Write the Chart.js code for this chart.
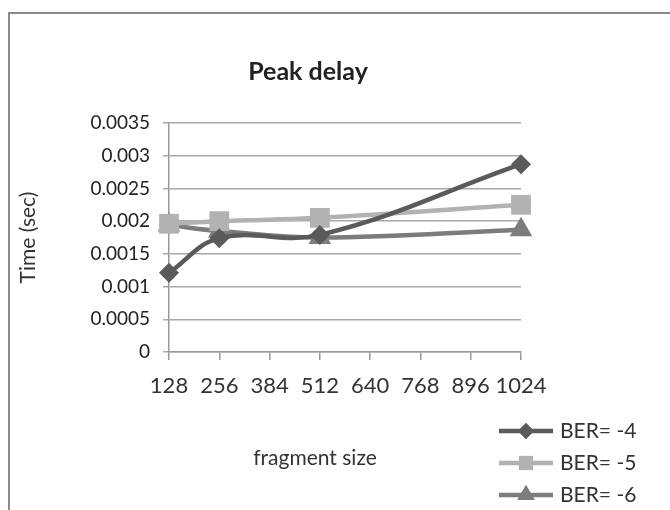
<!DOCTYPE html>
<html>
<head>
<meta charset="utf-8">
<script src="https://cdn.jsdelivr.net/npm/chart.js@4"></script>
<style>
  html, body { margin: 0; padding: 0; background: #fff; }
  #wrap { position: relative; width: 670px; height: 510px; overflow: hidden; }
  #frame { position: absolute; left: 8px; top: 12px; width: 700px; height: 600px; border: 2px solid #8a8a8a; box-sizing: border-box; }
  canvas { position: absolute; left: 0; top: 0; }
</style>
</head>
<body>
<div id="wrap">
  <div id="frame"></div>
  <canvas id="c" width="670" height="510"></canvas>
</div>
<script>
const chartTitle = "Peak delay";
const xTitle = "fragment size";
const yTitle = "Time (sec)";
const fragmentSizes = [128, 256, 512, 1024];
const xTickValues = [128, 256, 384, 512, 640, 768, 896, 1024];
const yTickValues = [0, 0.0005, 0.001, 0.0015, 0.002, 0.0025, 0.003, 0.0035];
const seriesNames = ["BER= -4", "BER= -5", "BER= -6"];
const ber4 = [0.00121, 0.00174, 0.00179, 0.00287];
const ber5 = [0.00196, 0.00200, 0.00205, 0.00225];
const ber6 = [0.00194, 0.00185, 0.00175, 0.00187];

const FONT = "Lato, 'Open Sans', sans-serif";
const colors = ["#5a5a5a", "#b2b2b2", "#7c7c7c"];
const styles = ["rectRot", "rect", "triangle"];
const radii = [10, 14, 13];

function pts(vals) { return fragmentSizes.map((x, i) => ({ x: x, y: vals[i] })); }

const datasets = [ber4, ber5, ber6].map((vals, i) => ({
  label: seriesNames[i],
  data: pts(vals),
  borderColor: colors[i],
  backgroundColor: colors[i],
  borderWidth: 4.5,
  pointStyle: styles[i],
  pointRadius: radii[i],
  pointBorderWidth: 0,
  pointBackgroundColor: colors[i],
  pointBorderColor: colors[i],
  tension: 0.4,
  clip: false
}));

const textPlugin = {
  id: 'texts',
  afterDraw(chart) {
    const ctx = chart.ctx;
    ctx.save();
    ctx.fillStyle = "#222";
    ctx.textAlign = "center";
    ctx.textBaseline = "middle";
    ctx.font = "bold 25px " + FONT;
    ctx.fillText(chartTitle, 308, 72);
    ctx.font = "21px " + FONT;
    ctx.fillStyle = "#333";
    ctx.fillText(xTitle, 315, 458);
    // legend
    const ys = [431, 463, 495];
    const lr = [8, 10, 10];
    chart.data.datasets.forEach((ds, i) => {
      const y = ys[i];
      ctx.strokeStyle = ds.borderColor;
      ctx.lineWidth = 4.5;
      ctx.beginPath();
      ctx.moveTo(499, y);
      ctx.lineTo(553, y);
      ctx.stroke();
      ctx.fillStyle = ds.borderColor;
      Chart.helpers.drawPoint(ctx, { pointStyle: ds.pointStyle, radius: lr[i], borderWidth: 0 }, 526, y);
      ctx.fill();
      ctx.fillStyle = "#333";
      ctx.textAlign = "left";
      ctx.font = "21px " + FONT;
      ctx.fillText(ds.label, 560, y);
    });
    ctx.restore();
  }
};

new Chart(document.getElementById('c'), {
  type: 'line',
  data: { datasets: datasets },
  plugins: [textPlugin],
  options: {
    responsive: false,
    animation: false,
    layout: { padding: { left: 0, right: 149, top: 123, bottom: 98 } },
    plugins: { legend: { display: false }, title: { display: false }, tooltip: { enabled: false } },
    scales: {
      x: {
        type: 'linear',
        min: 128, max: 1024,
        afterBuildTicks: (s) => { s.ticks = xTickValues.map(v => ({ value: v })); },
        afterFit: (s) => { s.height = 60; },
        grid: { drawOnChartArea: false, drawTicks: true, tickLength: 8, color: "#999", lineWidth: 1.5 },
        border: { color: "#999", width: 1.5 },
        ticks: { color: "#333", font: { family: FONT, size: 22 }, padding: 13, maxRotation: 0, autoSkip: false, callback: (v) => String(v) }
      },
      y: {
        min: 0, max: 0.0035,
        afterBuildTicks: (s) => { s.ticks = yTickValues.map(v => ({ value: v })); },
        afterFit: (s) => { s.width = 169; },
        grid: { color: "#a8a8a8", lineWidth: 1.5, tickLength: 6 },
        border: { color: "#999", width: 1.5 },
        ticks: { color: "#222", font: { family: FONT, size: 19 }, padding: 13, callback: (v) => String(Number(v.toFixed(4))) },
        title: { display: true, text: yTitle, color: "#333", font: { family: FONT, size: 21 }, padding: { top: 16, bottom: 0 } }
      }
    }
  }
});
</script>
</body>
</html>
